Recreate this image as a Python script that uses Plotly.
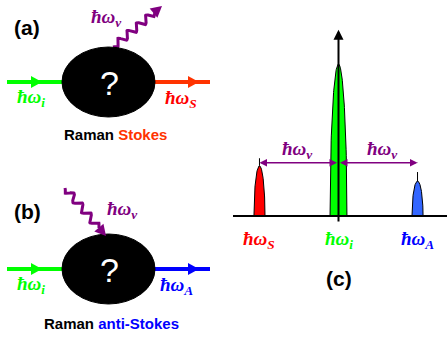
import numpy as np
import plotly.graph_objects as go

# ---------------- Panel (c) spectrum data ----------------
peak_names = ["S", "i", "A"]
peak_shift = [-1.0, 0.0, 1.0]          # position relative to ω_i, in units of ω_ν
peak_height = [0.33, 1.0, 0.23]        # relative intensity
peak_halfwidth = [0.07, 0.107, 0.07]
peak_fill = ["#ff0000", "#00ff00", "#3366ff"]
peak_label_color = ["#ff0000", "#00ff00", "#0000ff"]
peak_labels = ["ħω<sub>S</sub>", "ħω<sub>i</sub>", "ħω<sub>A</sub>"]
shift_label = "ħω<sub>ν</sub>"
shift_level = 0.35

# ---------------- Panels (a)/(b) text ----------------
panel_titles = ["(a)", "(b)", "(c)"]
caption_a = ["Raman ", "Stokes"]
caption_b = ["Raman ", "anti-Stokes"]

W, H = 447, 338
PURPLE = "#800080"
GREEN = "#00ff00"
SERIF = "Liberation Serif"
SANS = "Liberation Sans"

fig = go.Figure()
shapes = []
ann = []


def tri_path(tip, direction, length=11, half=6):
    d = np.array(direction, float)
    d = d / np.linalg.norm(d)
    n = np.array([-d[1], d[0]])
    tip = np.array(tip, float)
    base = tip - d * length
    p1 = base + n * half
    p2 = base - n * half
    return f"M {tip[0]},{tip[1]} L {p1[0]},{p1[1]} L {p2[0]},{p2[1]} Z"


def wave(start, end, amp=3.5, cycles=4.5, npts=200):
    s = np.array(start, float)
    e = np.array(end, float)
    d = e - s
    L = np.linalg.norm(d)
    u = d / L
    n = np.array([-u[1], u[0]])
    t = np.linspace(0, 1, npts)
    env = np.clip(t / 0.08, 0, 1) * np.clip((1 - t) / 0.08, 0, 1)
    off = amp * np.sin(2 * np.pi * cycles * t) * env
    pts = s[None, :] + t[:, None] * d[None, :] + off[:, None] * n[None, :]
    return pts[:, 0], pts[:, 1]


def lbl(text, x, y, color, size=19, xref="x", yref="y"):
    ann.append(dict(text=text, x=x, y=y, xref=xref, yref=yref, xanchor="center",
                    yanchor="middle", showarrow=False,
                    font=dict(family=SERIF, size=size, color=color, style="italic",
                              weight="bold")))


# ---------- diagrams (a) and (b), pixel coordinates ----------
for k, (cy, out_color, out_label) in enumerate([(82, "#ff3300", "ħω<sub>S</sub>"),
                                               (269, "#0000ff", "ħω<sub>A</sub>")]):
    out_txt_color = "#ff0000" if k == 0 else "#0000ff"
    shapes.append(dict(type="line", xref="x", yref="y", x0=7, x1=63, y0=cy, y1=cy,
                       line=dict(color=GREEN, width=4)))
    shapes.append(dict(type="path", xref="x", yref="y", path=tri_path((42, cy), (1, 0)),
                       fillcolor=GREEN, line=dict(color=GREEN, width=0)))
    shapes.append(dict(type="line", xref="x", yref="y", x0=154, x1=210, y0=cy, y1=cy,
                       line=dict(color=out_color, width=4)))
    shapes.append(dict(type="path", xref="x", yref="y", path=tri_path((199, cy), (1, 0)),
                       fillcolor=out_color, line=dict(color=out_color, width=0)))
    shapes.append(dict(type="circle", xref="x", yref="y", x0=62, x1=155, y0=cy - 35, y1=cy + 35,
                       fillcolor="black", line=dict(color="black", width=1)))
    ann.append(dict(text="?", x=109, y=cy + 1, xref="x", yref="y", showarrow=False,
                    xanchor="center", yanchor="middle",
                    font=dict(family=SANS, size=34, color="white")))
    lbl("ħω<sub>i</sub>", 31, cy + 16, GREEN)
    lbl(out_label, 181 if k == 0 else 176, cy + 17, out_txt_color)

# wavy phonon lines
wx, wy = wave((113, 47), (155, 12), amp=3.5, cycles=4.5)
fig.add_trace(go.Scatter(x=wx, y=wy, mode="lines", line=dict(color=PURPLE, width=3),
                         hoverinfo="skip", showlegend=False))
shapes.append(dict(type="path", xref="x", yref="y", path=tri_path((162, 6), (42, -35), 11, 6),
                   fillcolor=PURPLE, line=dict(color=PURPLE, width=0)))
wx, wy = wave((65, 188), (99, 228), amp=3.5, cycles=4.0)
fig.add_trace(go.Scatter(x=wx, y=wy, mode="lines", line=dict(color=PURPLE, width=3),
                         hoverinfo="skip", showlegend=False))
shapes.append(dict(type="path", xref="x", yref="y", path=tri_path((106, 236), (34, 40), 11, 6),
                   fillcolor=PURPLE, line=dict(color=PURPLE, width=0)))
lbl(shift_label, 106, 18, PURPLE)
lbl(shift_label, 122, 210, PURPLE)

# panel titles and captions
for t, (x, y) in zip(panel_titles[:2], [(27, 27), (27, 211)]):
    ann.append(dict(text=f"<b>{t}</b>", x=x, y=y, xref="x", yref="y", showarrow=False,
                    xanchor="center", yanchor="middle",
                    font=dict(family=SANS, size=21, color="black")))
ann.append(dict(text=f"<b>{caption_a[0]}<span style='color:#ff3300'>{caption_a[1]}</span></b>",
                x=115, y=134, xref="x", yref="y", showarrow=False, xanchor="center",
                yanchor="middle", font=dict(family=SANS, size=15, color="black")))
ann.append(dict(text=f"<b>{caption_b[0]}<span style='color:#0000ff'>{caption_b[1]}</span></b>",
                x=111, y=323, xref="x", yref="y", showarrow=False, xanchor="center",
                yanchor="middle", font=dict(family=SANS, size=15, color="black")))

# ---------- panel (c) spectrum on its own axes ----------
for c, h, w, col in zip(peak_shift, peak_height, peak_halfwidth, peak_fill):
    u = np.linspace(-1, 1, 121)
    fig.add_trace(go.Scatter(x=c + w * u, y=h * np.sqrt(1 - u ** 2), mode="lines",
                             fill="toself", fillcolor=col, line=dict(color="black", width=1),
                             xaxis="x2", yaxis="y2", hoverinfo="skip", showlegend=False))

x2min, x2max = -1.335, 1.373
shapes.append(dict(type="line", xref="x2", yref="y2", x0=x2min, x1=x2max, y0=0, y1=0,
                   line=dict(color="black", width=2)))
ann.append(dict(x=0, y=1.225, ax=0, ay=-0.046, xref="x2", yref="y2", axref="x2", ayref="y2",
                text="", showarrow=True, arrowhead=2, arrowsize=1, arrowwidth=2,
                arrowcolor="black"))
i_center = peak_shift[1]
for c in (peak_shift[0], peak_shift[2]):
    ann.append(dict(x=c, y=shift_level, ax=i_center, ay=shift_level, xref="x2", yref="y2",
                    axref="x2", ayref="y2", text="", showarrow=True, arrowhead=2,
                    arrowside="end+start", arrowsize=1, arrowwidth=1.5, arrowcolor=PURPLE))
shapes.append(dict(type="line", xref="x2", yref="y2", x0=peak_shift[0], x1=peak_shift[0],
                   y0=peak_height[0], y1=shift_level + 0.03, line=dict(color="black", width=1)))
shapes.append(dict(type="line", xref="x2", yref="y2", x0=peak_shift[2], x1=peak_shift[2],
                   y0=peak_height[2], y1=shift_level, line=dict(color="black", width=1, dash="dash")))
lbl(shift_label, (peak_shift[0] + i_center) / 2 - 0.02, shift_level + 0.085, PURPLE,
    xref="x2", yref="y2")
lbl(shift_label, (peak_shift[2] + i_center) / 2 + 0.06, shift_level + 0.085, PURPLE,
    xref="x2", yref="y2")
for c, t, col in zip(peak_shift, peak_labels, peak_label_color):
    lbl(t, c, -0.155, col, xref="x2", yref="y2")
ann.append(dict(text=f"<b>{panel_titles[2]}</b>", x=0, y=(H - 278) / H, xref="x2", yref="paper",
                xanchor="center", yanchor="middle", showarrow=False,
                font=dict(family=SANS, size=21, color="black")))

fig.update_layout(
    width=W, height=H, margin=dict(l=0, r=0, t=0, b=0),
    paper_bgcolor="white", plot_bgcolor="white",
    xaxis=dict(range=[0, W], domain=[0, 1], visible=False, fixedrange=True),
    yaxis=dict(range=[H, 0], domain=[0, 1], visible=False, fixedrange=True),
    xaxis2=dict(range=[x2min, x2max], domain=[233 / W, 1], anchor="y2", visible=False),
    yaxis2=dict(range=[-0.3026, 1.2895], domain=[76 / H, 318 / H], anchor="x2", visible=False),
    shapes=shapes, annotations=ann, showlegend=False,
)
fig.write_html("out.html")
